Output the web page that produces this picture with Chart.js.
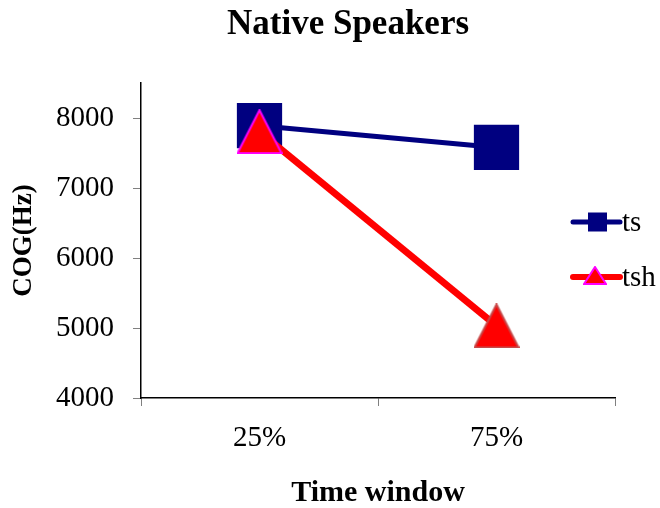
<!DOCTYPE html>
<html>
<head>
<meta charset="utf-8">
<script src="https://cdn.jsdelivr.net/npm/chart.js@4.4.0/dist/chart.umd.min.js"></script>
<style>
  html, body { margin: 0; padding: 0; background: #fff; }
  #wrap { width: 660px; height: 508px; }
</style>
</head>
<body>
<div id="wrap"><canvas id="cog_chart" width="660" height="508"></canvas></div>
<script>
const categories = ['25%', '75%'];
const ts_values = [7890, 7580];
const tsh_values = [7805, 5030];
const y_ticks = [4000, 5000, 6000, 7000, 8000];
const series_names = ['ts', 'tsh'];
const chart_title = 'Native Speakers';

const SERIF = "'Liberation Serif', 'Times New Roman', serif";

// Excel style triangle, centred on the point
function triangle_marker(w, h, fill, stroke, lw) {
    const c = document.createElement('canvas');
    c.width = w;
    c.height = h;
    const g = c.getContext('2d');
    g.beginPath();
    g.moveTo(w / 2, lw / 2);
    g.lineTo(w - lw / 2, h - lw / 2);
    g.lineTo(lw / 2, h - lw / 2);
    g.closePath();
    g.fillStyle = fill;
    g.fill();
    g.lineWidth = lw;
    g.strokeStyle = stroke;
    g.stroke();
    return c;
}

const tri_first = triangle_marker(46, 45, '#ff0000', '#ff00ff', 2);
const tri_second = triangle_marker(46, 45, '#ff0000', '#c84848', 2);
const tri_legend = triangle_marker(24, 19, '#ff0000', '#ff00ff', 2);

// title sits a bit right of the canvas centre, so it is drawn here
const top_title = {
    id: 'top_title',
    afterDraw(chart) {
        const ctx = chart.ctx;
        ctx.save();
        ctx.fillStyle = '#000';
        ctx.font = "bold 35px " + SERIF;
        ctx.textAlign = 'center';
        ctx.textBaseline = 'middle';
        ctx.fillText(chart_title, 348, 25);
        ctx.restore();
    }
};

const side_legend = {
    id: 'side_legend',
    afterDraw(chart) {
        const ctx = chart.ctx;
        const rows = [222, 277];
        ctx.save();
        chart.data.datasets.forEach((ds, i) => {
            const y = rows[i];
            ctx.beginPath();
            ctx.lineCap = 'round';
            ctx.lineWidth = i == 0 ? 5 : 6;
            ctx.strokeStyle = ds.borderColor;
            ctx.moveTo(573, y);
            ctx.lineTo(620, y);
            ctx.stroke();
            if (i == 0) {
                ctx.fillStyle = ds.backgroundColor;
                ctx.fillRect(588, y - 9.5, 19, 19);
            } else {
                ctx.drawImage(tri_legend, 583, y - 11);
            }
            ctx.fillStyle = '#000';
            ctx.font = "29px " + SERIF;
            ctx.textBaseline = 'middle';
            ctx.textAlign = 'left';
            ctx.fillText(ds.label, 622, y + 1);
        });
        ctx.restore();
    }
};

const chart = new Chart(document.getElementById('cog_chart').getContext('2d'), {
    type: 'line',
    data: {
        labels: categories,
        datasets: [
            {
                label: series_names[0],
                data: ts_values,
                borderColor: '#000080',
                backgroundColor: '#000080',
                borderWidth: 5,
                pointStyle: 'rect',
                pointRadius: 32,
                pointHoverRadius: 32,
                pointBorderWidth: 0,
                tension: 0,
                order: 1
            },
            {
                label: series_names[1],
                data: tsh_values,
                borderColor: '#ff0000',
                backgroundColor: '#ff0000',
                borderWidth: 7,
                pointStyle: [tri_first, tri_second],
                pointRadius: 23,
                tension: 0,
                order: 0
            }
        ]
    },
    options: {
        responsive: false,
        animation: false,
        layout: { padding: { left: 0, right: 45, top: 83, bottom: 0 } },
        plugins: {
            legend: { display: false },
            tooltip: { enabled: false },
            title: { display: false }
        },
        scales: {
            x: {
                type: 'category',
                offset: true,
                grid: { offset: true, drawOnChartArea: false, tickLength: 8, color: '#808080', lineWidth: 1 },
                border: { color: '#000', width: 1.5 },
                ticks: { color: '#000', font: { family: SERIF, size: 29 }, padding: 15 },
                title: {
                    display: true,
                    text: 'Time window',
                    color: '#000',
                    font: { family: SERIF, size: 30, weight: 'bold', lineHeight: 1.0 },
                    padding: { top: 0, bottom: 0 }
                },
                afterFit: (scale) => { scale.height = 110; }
            },
            y: {
                min: 4000,
                max: 8500,
                grid: { drawOnChartArea: false, tickLength: 8, color: '#808080', lineWidth: 1 },
                border: { color: '#000', width: 1.5 },
                ticks: {
                    color: '#000',
                    font: { family: SERIF, size: 29 },
                    padding: 19,
                    callback: (v) => String(v)
                },
                afterBuildTicks: (scale) => { scale.ticks = y_ticks.map(v => ({ value: v })); },
                title: {
                    display: true,
                    text: 'COG(Hz)',
                    color: '#000',
                    font: { family: SERIF, size: 27, weight: 'bold' },
                    padding: { top: 8, bottom: 0 }
                },
                afterFit: (scale) => { scale.width = 141; }
            }
        }
    },
    plugins: [top_title, side_legend]
});
</script>
</body>
</html>
